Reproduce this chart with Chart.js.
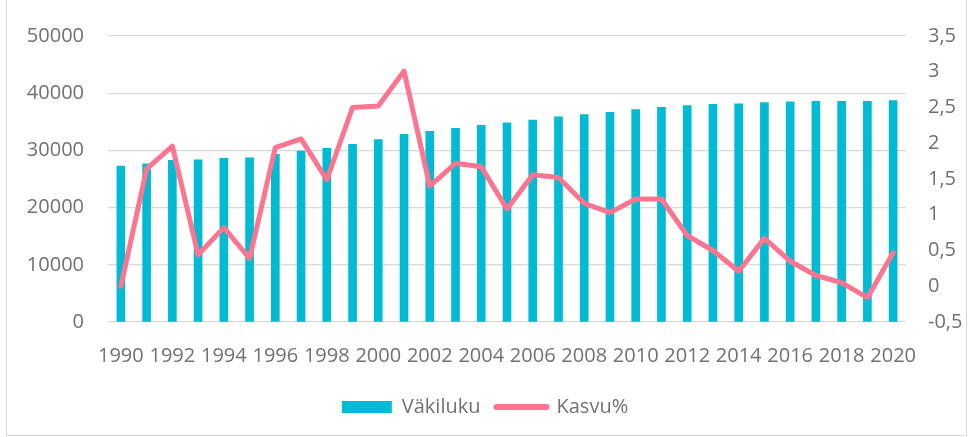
<!DOCTYPE html>
<html>
<head>
<meta charset="utf-8">
<script src="https://cdn.jsdelivr.net/npm/chart.js@4/dist/chart.umd.min.js"></script>
<style>
  html, body { margin: 0; padding: 0; background: #fff; }
  #wrap { position: relative; width: 970px; height: 437px; overflow: hidden; }
  #chart { position: absolute; left: 0; top: 0; }
  #frame { position: absolute; left: 6px; top: -2px; width: 959px; height: 436px; border: 1px solid #d9d9d9; pointer-events: none; }
</style>
</head>
<body>
<div id="wrap">
  <canvas id="chart" width="970" height="437"></canvas>
  <div id="frame"></div>
</div>
<script>
// Vuodet (x-akseli)
const years = ['1990', '1991', '1992', '1993', '1994', '1995', '1996', '1997', '1998', '1999',
    '2000', '2001', '2002', '2003', '2004', '2005', '2006', '2007', '2008', '2009',
    '2010', '2011', '2012', '2013', '2014', '2015', '2016', '2017', '2018', '2019', '2020'];

// Väkiluku (vasen akseli)
const population = [27250, 27650, 28250, 28350, 28600, 28700, 29300, 29880, 30350, 31050,
    31870, 32800, 33330, 33860, 34390, 34800, 35320, 35850, 36260, 36670,
    37130, 37540, 37830, 38070, 38130, 38360, 38480, 38600, 38600, 38570, 38720];

// Kasvu% (oikea akseli)
const growth = [0.0, 1.64, 1.96, 0.44, 0.82, 0.39, 1.94, 2.06, 1.49, 2.50,
    2.52, 3.01, 1.40, 1.72, 1.67, 1.08, 1.56, 1.52, 1.16, 1.03,
    1.22, 1.22, 0.71, 0.50, 0.21, 0.67, 0.35, 0.15, 0.05, -0.16, 0.47];

const leftTicks = { min: 0, max: 50000, step: 10000 };
const rightTicks = { min: -0.5, max: 3.5, step: 0.5 };

const TEAL = '#00BBD3';
const PINK = '#FF7590';
const TEXT = '#717171';
const GRID = '#d9d9d9';
const FONT = { family: '"Open Sans", sans-serif', size: 20 };

const ctx = document.getElementById('chart').getContext('2d');
new Chart(ctx, {
    data: {
        labels: years,
        datasets: [
            {
                type: 'bar',
                label: 'Väkiluku',
                data: population,
                backgroundColor: TEAL,
                barThickness: 8,
                yAxisID: 'y',
                order: 2
            },
            {
                type: 'line',
                label: 'Kasvu%',
                data: growth,
                borderColor: PINK,
                backgroundColor: PINK,
                borderWidth: 5,
                borderJoinStyle: 'round',
                borderCapStyle: 'round',
                pointRadius: 0,
                tension: 0,
                yAxisID: 'y2',
                order: 1
            }
        ]
    },
    options: {
        responsive: false,
        animation: false,
        layout: { padding: { top: 25, bottom: 10, left: 0, right: 0 } },
        plugins: {
            tooltip: { enabled: false },
            legend: {
                position: 'bottom',
                labels: {
                    color: TEXT,
                    font: FONT,
                    usePointStyle: true,
                    pointStyleWidth: 50,
                    boxHeight: 12,
                    padding: 16,
                    sort: (a, b) => a.datasetIndex - b.datasetIndex,
                    generateLabels(chart) {
                        const items = Chart.defaults.plugins.legend.labels.generateLabels(chart);
                        items.forEach(it => {
                            if (it.datasetIndex === 0) {
                                it.pointStyle = 'rect';
                                it.lineWidth = 0;
                                it.fillStyle = TEAL;
                            } else {
                                it.pointStyle = 'line';
                                it.lineWidth = 6;
                                it.lineCap = 'round';
                                it.strokeStyle = PINK;
                            }
                        });
                        return items;
                    }
                }
            }
        },
        scales: {
            x: {
                grid: { display: false },
                border: { display: false },
                ticks: {
                    color: TEXT,
                    font: FONT,
                    autoSkip: false,
                    maxRotation: 0,
                    minRotation: 0,
                    padding: 14,
                    callback: function (val, i) {
                        return i % 2 === 0 ? this.getLabelForValue(val) : '';
                    }
                },
                afterFit: s => { s.height = 59; }
            },
            y: {
                position: 'left',
                min: leftTicks.min,
                max: leftTicks.max,
                grid: { color: GRID, lineWidth: 1.3, drawTicks: false },
                border: { display: false },
                ticks: {
                    stepSize: leftTicks.step,
                    color: TEXT,
                    font: FONT,
                    padding: 24,
                    callback: v => String(v)
                },
                afterFit: s => { s.width = 108; }
            },
            y2: {
                position: 'right',
                min: rightTicks.min,
                max: rightTicks.max,
                grid: { display: false, drawTicks: false },
                border: { display: false },
                ticks: {
                    stepSize: rightTicks.step,
                    color: TEXT,
                    font: FONT,
                    padding: 22,
                    callback: v => String(v).replace('.', ',')
                },
                afterFit: s => { s.width = 64; }
            }
        }
    }
});
</script>
</body>
</html>
